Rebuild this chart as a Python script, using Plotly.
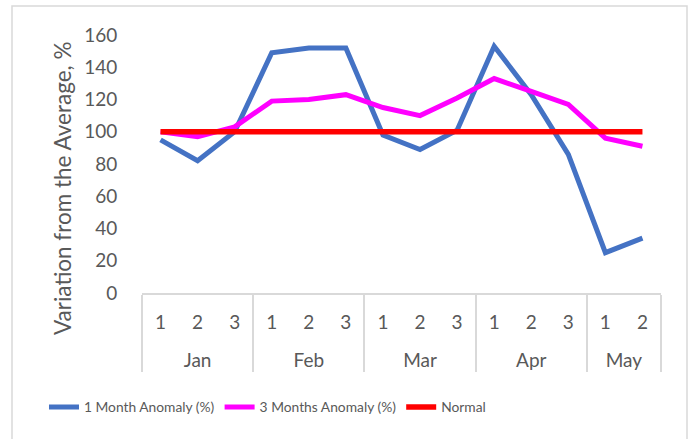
import plotly.graph_objects as go

months = ["Jan", "Jan", "Jan", "Feb", "Feb", "Feb", "Mar", "Mar", "Mar", "Apr", "Apr", "Apr", "May", "May"]
periods = ["1", "2", "3", "1", "2", "3", "1", "2", "3", "1", "2", "3", "1", "2"]
one_month = [95, 82, 100, 149, 152, 152, 98, 89, 101, 153, 123, 86, 25, 34]
three_months = [100, 97, 103, 119, 120, 123, 115, 110, 121, 133, 125, 117, 96, 91]
normal = [100] * 14
y_title = "Variation from the Average, %"

FONT = "Lato"
GRAY = "#595959"

month_labels = ["<br>" + m for m in months]

fig = go.Figure()
x = [month_labels, periods]
fig.add_trace(go.Scatter(x=x, y=one_month, mode="lines", name="1 Month Anomaly (%)",
                         line=dict(color="#4472C4", width=5)))
fig.add_trace(go.Scatter(x=x, y=three_months, mode="lines", name="3 Months Anomaly (%)",
                         line=dict(color="#FF00FF", width=5)))
fig.add_trace(go.Scatter(x=x, y=normal, mode="lines", name="Normal",
                         line=dict(color="#FF0000", width=5.5)))

fig.update_layout(
    width=694, height=439,
    margin=dict(l=142, r=33, t=35, b=146, autoexpand=False),
    paper_bgcolor="white", plot_bgcolor="white",
    font=dict(family=FONT, color=GRAY),
    showlegend=True,
    legend=dict(orientation="h", x=0.2418, xanchor="center", y=-0.442, yanchor="middle",
                font=dict(size=13.8, color=GRAY), itemwidth=30, tracegroupgap=0),
    xaxis=dict(type="multicategory", showline=True, linecolor="#D9D9D9", linewidth=1.5,
               showdividers=True, dividercolor="#D9D9D9", dividerwidth=1.5,
               showgrid=False, ticks="", tickfont=dict(size=19, color=GRAY),
               ticklabelstandoff=11, range=[-0.5, 13.5]),
    yaxis=dict(range=[0, 160], dtick=20, showgrid=False, zeroline=False, showline=False,
               tickfont=dict(size=19, color=GRAY), ticks="outside", ticklen=20,
               tickcolor="rgba(0,0,0,0)"),
    annotations=[dict(text=y_title, xref="paper", yref="paper",
                      x=(62 - 142) / 519, y=(293 - 189) / 258, textangle=-90,
                      showarrow=False, xanchor="center", yanchor="middle",
                      font=dict(size=22.5, color=GRAY))],
    shapes=[dict(type="rect", xref="paper", yref="paper",
                 x0=(12 - 142) / 519, x1=(687 - 142) / 519,
                 y0=(293 - 450) / 258, y1=(293 - 6) / 258,
                 line=dict(color="#D9D9D9", width=1.5), fillcolor="rgba(0,0,0,0)", layer="below")],
)

fig.write_html("out.html", config={"displayModeBar": False},
               post_script="document.body.style.margin='0px';")
